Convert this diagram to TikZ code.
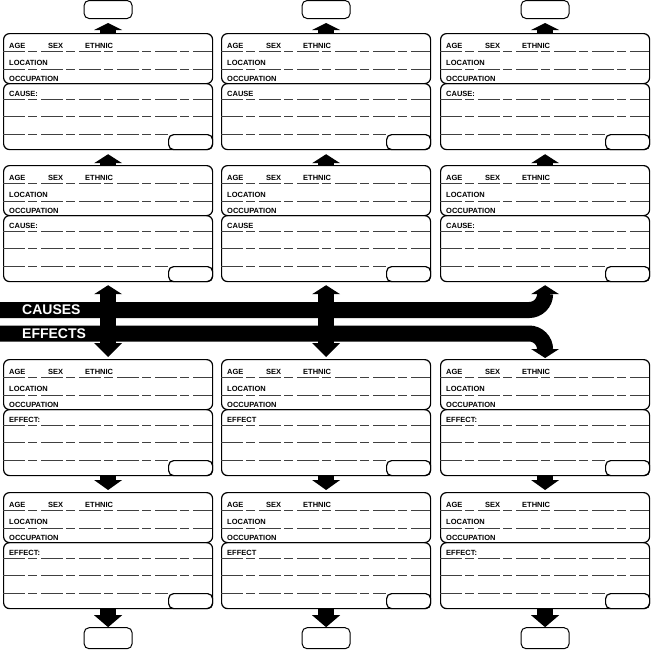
\documentclass[tikz,border=0pt]{standalone}
\usepackage{fontspec}
\setmainfont{Liberation Sans}
\usetikzlibrary{arrows.meta, positioning}

\tikzset{
    card/.style={draw, line width=1.2pt, rounded corners=6pt, anchor=north west,
        minimum width=209pt, inner sep=0pt},
    tagbox/.style={draw, line width=1.2pt, rounded corners=5pt, anchor=north west,
        minimum width=44pt, minimum height=15pt, inner sep=0pt},
    endbox/.style={draw, line width=1pt, rounded corners=5pt,
        minimum width=48pt, minimum height=18pt, inner sep=0pt},
    lbl/.style={anchor=west, inner sep=0pt, font=\bfseries\fontsize{7.5}{8}\selectfont},
    formline/.style={line width=0.6pt, black!75, dash pattern=on 22pt off 3pt on 9pt off 4pt},
    blockarrow/.style={line width=16pt, -{Triangle[length=#1, width=28pt, line width=0pt]}},
    blockarrow/.default=9pt,
    dblarrow/.style={line width=16pt,
        {Triangle[length=9pt, width=28pt, line width=0pt]}-{Triangle[length=14pt, width=28pt, line width=0pt]}},
    band/.style={line width=16pt, rounded corners=16pt,
        -{Triangle[length=9pt, width=28pt, line width=0pt]}},
    bandtext/.style={anchor=west, inner sep=0pt, text=white,
        font=\bfseries\fontsize{14}{14}\selectfont}
}

\begin{document}
\begin{tikzpicture}[x=1pt, y=-1pt]
    \useasboundingbox (0,0) rectangle (652,649);

    % the twelve cards
    \foreach \c/\x in {1/3, 2/221, 3/440} {
        \foreach \r/\y/\word in {1/33/CAUSE, 2/165/CAUSE, 3/359/EFFECT, 4/492/EFFECT} {
            \begin{scope}[shift={(\x,\y)}]
                \node[card, minimum height=50pt] (up\c\r) at (0,0) {};
                \node[card, minimum height=66pt] (low\c\r) at (0,50) {};
                \node[tagbox] (tag\c\r) at (165,101) {};
                \draw[formline] (0,18) -- (209,18);
                \draw[formline] (0,36) -- (209,36);
                \draw[formline] (0,66) -- (209,66);
                \draw[formline] (0,83) -- (209,83);
                \draw[formline] (0,101) -- (165,101);
                \node[lbl] (age\c\r) at (6,13) {AGE};
                \node[lbl] (sex\c\r) at (45,13) {SEX};
                \node[lbl] (ethnic\c\r) at (82,13) {ETHNIC};
                \node[lbl] (loc\c\r) at (6,30) {LOCATION};
                \node[lbl] (occ\c\r) at (6,46) {OCCUPATION};
                \node[lbl] (why\c\r) at (6,61) {\word\ifnum\c=2 \else:\fi};
            \end{scope}
        }
    }

    % end boxes and arrows along each column
    \foreach \c in {1, 2, 3} {
        \node[endbox, above=14pt of up\c1] (top\c) {};
        \node[endbox, minimum height=21pt, below=18pt of low\c4] (bot\c) {};
        \draw[blockarrow=7pt, shorten >=4pt] (up\c1) -- (top\c);
        \draw[blockarrow, shorten >=4pt] (up\c2) -- (low\c1);
        \draw[blockarrow=10pt, shorten >=2pt] (low\c3) -- (up\c4);
        \draw[blockarrow=12pt] (low\c4) -- (bot\c);
    }
    \foreach \c in {1, 2}
        \draw[dblarrow, shorten <=3pt, shorten >=2pt] (low\c2) -- (up\c3);

    % the two bands
    \coordinate (causesL) at (0,310);
    \coordinate (effectsL) at (0,333.5);
    \draw[band, shorten >=3pt] (causesL) -| (low32);
    \draw[band, shorten >=1pt] (effectsL) -| (up33);
    \node[bandtext] (causes) at (22,310) {CAUSES};
    \node[bandtext] (effects) at (22,334) {EFFECTS};
\end{tikzpicture}
\end{document}
